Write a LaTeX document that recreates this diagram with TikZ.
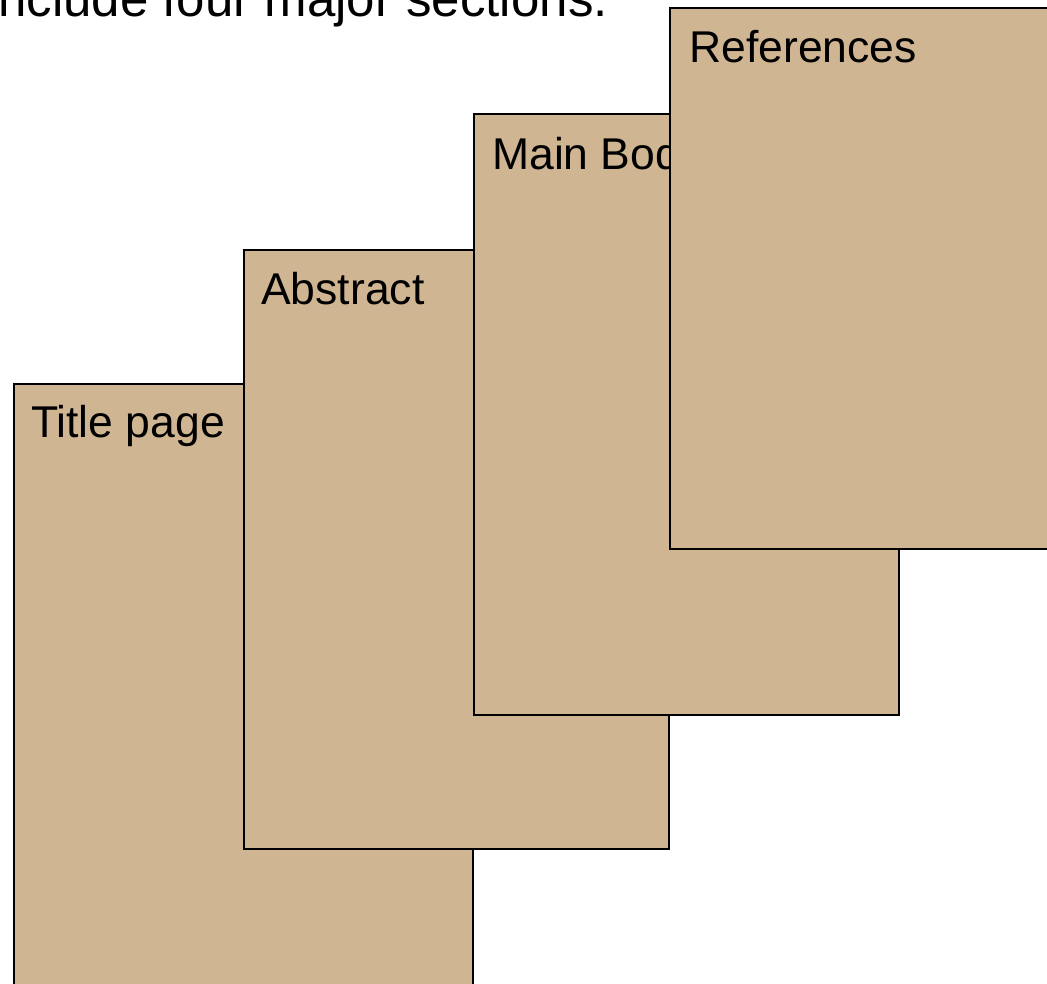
\documentclass[tikz,border=0pt]{standalone}
\usepackage{fontspec}
\setmainfont{Liberation Sans}
\usetikzlibrary{calc}
\definecolor{pagetan}{RGB}{208,181,146}
\tikzset{
  pagebox/.style={draw=black, line width=2pt, fill=pagetan, rectangle,
    anchor=north west, inner sep=0pt},
  pagelabel/.style={anchor=base west, inner sep=0pt, font=\fontsize{44.5}{50}\selectfont},
  headline/.style={anchor=base east, inner sep=0pt, font=\fontsize{51}{58}\selectfont}
}
\begin{document}
\begin{tikzpicture}[x=1pt,y=1pt]
  \useasboundingbox (0,0) rectangle (1047,983);
  \clip (0,0) rectangle (1047,983);

  % heading line, partly above the frame
  \node[headline] (head) at (608,966) {include four major sections.};

  % stacked pages, back to front
  \node[pagebox, minimum width=459pt, minimum height=700pt] (title) at (13,600) {};
  \node[pagelabel] (titlelbl) at ($(title.north west)+(18,-55)$) {Title page};

  \node[pagebox, minimum width=425pt, minimum height=599pt] (abstract) at (243,734) {};
  \node[pagelabel] (abstractlbl) at ($(abstract.north west)+(18,-56)$) {Abstract};

  \node[pagebox, minimum width=425pt, minimum height=601pt] (main) at (473,870) {};
  \node[pagelabel] (mainlbl) at ($(main.north west)+(19,-57)$) {Main Body};

  \node[pagebox, minimum width=450pt, minimum height=541pt] (refs) at (669,976) {};
  \node[pagelabel] (refslbl) at ($(refs.north west)+(20,-56)$) {References};
\end{tikzpicture}
\end{document}
